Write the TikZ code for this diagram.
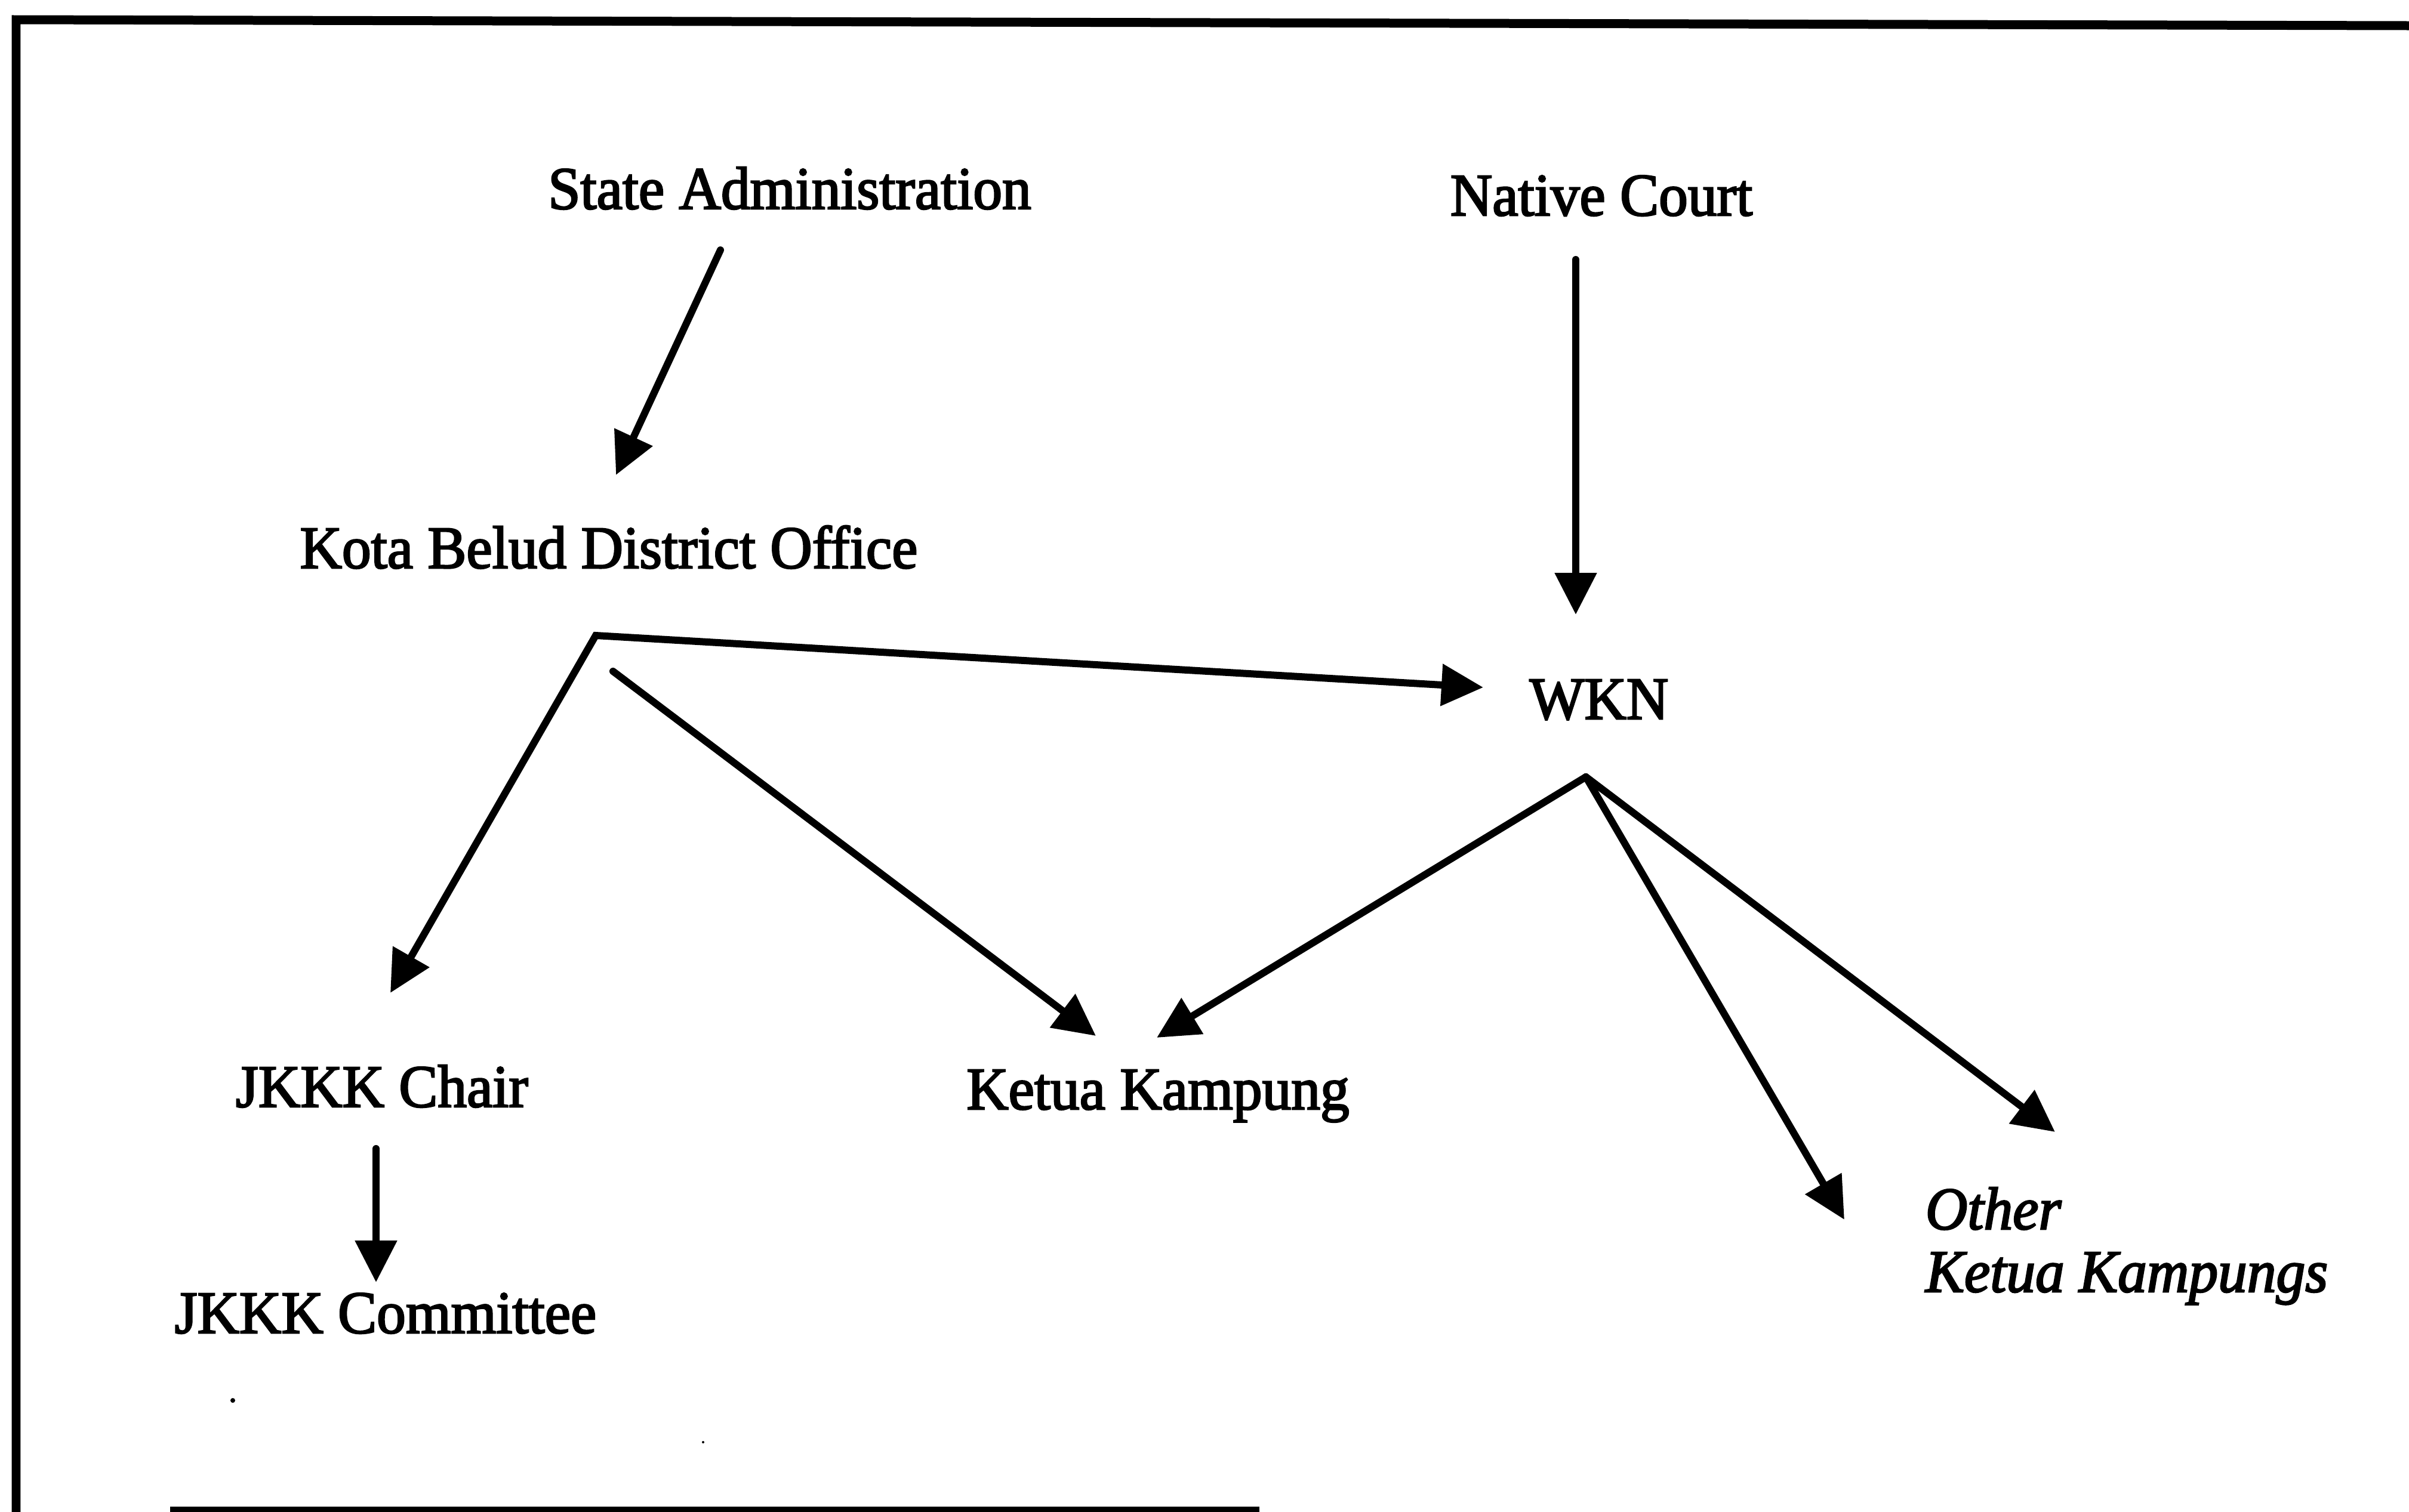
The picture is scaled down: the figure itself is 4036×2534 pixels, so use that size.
\documentclass[tikz,border=0pt]{standalone}
\usepackage{fontspec}
\setmainfont{Liberation Serif}
\newfontfamily\lblfont{Liberation Serif}[FakeBold=2.6, FakeStretch=0.965]
\usetikzlibrary{arrows.meta}

\begin{document}
\begin{tikzpicture}[x=0.1pt, y=-0.1pt,
    lbl/.style={inner sep=0pt, anchor=base, font=\lblfont\fontsize{10.1}{10.5}\selectfont},
    link/.style={line width=1.2pt, line cap=round, line join=miter,
                 -{Triangle[length=7pt, width=6.8pt]}},
    frame/.style={line width=1.5pt}]
  \useasboundingbox (0,0) rectangle (4036,2534);

  % frame of the figure
  \draw[frame] (27,2534) -- (27,33) -- (4036,43);
  \draw[line width=1pt] (285,2530) -- (2110,2530);
  \fill (390,2347) circle (4);
  \fill (1178,2417) circle (2);

  % labels
  \node[lbl] (sa)  at (1323,350)  {State Administration};
  \node[lbl] (nc)  at (2683,361)  {Native Court};
  \node[lbl] (kb)  at (1020,952)  {Kota Belud District Office};
  \node[lbl] (wkn) at (2679,1205) {WKN};
  \node[lbl] (jc)  at (640,1855)  {JKKK Chair};
  \node[lbl] (kk)  at (1940,1859) {Ketua Kampung};
  \node[lbl] (jcm) at (646,2234)  {JKKK Committee};
  \node[lbl, anchor=base west] (ok) at (3224,2060)
    {\itshape\begin{tabular}[t]{@{}l@{}}Other\\Ketua Kampungs\end{tabular}};

  % connector end points
  \coordinate (sa-out)    at (1207,419);
  \coordinate (kb-in)     at (1032,796);
  \coordinate (nc-out)    at (2640,435);
  \coordinate (wkn-in)    at (2640,1030);
  \coordinate (kb-corner) at (998,1065);
  \coordinate (kb-out)    at (1027,1125);
  \coordinate (jc-in)     at (654,1664);
  \coordinate (wkn-left)  at (2485,1152);
  \coordinate (kk-in1)    at (1836,1736);
  \coordinate (wkn-hub)   at (2657,1302);
  \coordinate (kk-in2)    at (1938,1739);
  \coordinate (ok-in1)    at (3090,2044);
  \coordinate (ok-in2)    at (3443,1897);
  \coordinate (jc-out)    at (630,1925);
  \coordinate (jcm-in)    at (630,2149);

  % connectors
  \draw[link] (sa-out) -- (kb-in);
  \draw[link] (nc-out) -- (wkn-in);
  \draw[link, {Triangle[length=7pt, width=6.8pt]}-{Triangle[length=7pt, width=6.8pt]}]
    (jc-in) -- (kb-corner) -- (wkn-left);
  \draw[link] (kb-out) -- (kk-in1);
  \draw[link] (wkn-hub) -- (kk-in2);
  \draw[link] (wkn-hub) -- (ok-in1);
  \draw[link] (wkn-hub) -- (ok-in2);
  \draw[link] (jc-out) -- (jcm-in);
\end{tikzpicture}
\end{document}
